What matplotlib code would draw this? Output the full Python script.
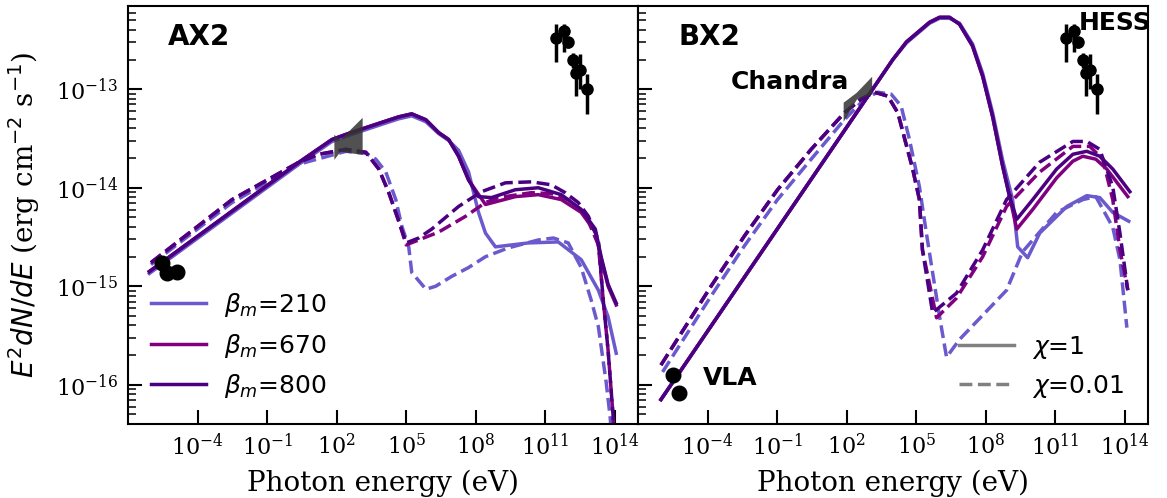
import numpy as np
import matplotlib.pyplot as plt
from matplotlib.lines import Line2D
from matplotlib.ticker import NullLocator, LogLocator

plt.rcParams['font.family'] = 'serif'
plt.rcParams['font.serif'] = ['DejaVu Serif']
plt.rcParams['mathtext.fontset'] = 'dejavusans'

# Valori: log10(E / eV) e log10(E^2 dN/dE / erg cm^-2 s^-1)

# ---- AX2, chi = 1 (linee continue)
ax2_sol_210_x = [-6.08, 0.38, 1.80, 2.50, 3.26, 4.03, 4.68, 5.24, 5.85, 6.40, 6.83, 7.26, 7.69, 8.12, 8.42, 8.85, 10.27, 11.56, 12.55, 13.29, 13.71, 14.06]
ax2_sol_210_y = [-14.87, -13.76, -13.53, -13.47, -13.41, -13.35, -13.30, -13.27, -13.33, -13.45, -13.52, -13.62, -13.84, -14.25, -14.46, -14.60, -14.56, -14.55, -14.73, -15.04, -15.31, -15.68]
ax2_sol_670_x = [-6.08, 0.38, 1.80, 2.50, 3.26, 4.03, 4.68, 5.24, 5.85, 6.40, 6.83, 7.26, 7.69, 8.42, 9.71, 10.70, 11.69, 12.55, 13.16, 13.41, 13.71, 14.06]
ax2_sol_670_y = [-14.85, -13.74, -13.51, -13.45, -13.39, -13.33, -13.28, -13.25, -13.31, -13.44, -13.51, -13.68, -13.92, -14.17, -14.09, -14.07, -14.12, -14.25, -14.45, -14.72, -15.00, -15.19]
ax2_sol_800_x = [-6.08, 0.38, 1.80, 2.50, 3.26, 4.03, 4.68, 5.24, 5.85, 6.40, 6.83, 7.26, 7.69, 8.12, 8.68, 9.71, 10.70, 11.69, 12.55, 13.16, 13.41, 13.71, 14.06]
ax2_sol_800_y = [-14.85, -13.74, -13.51, -13.45, -13.39, -13.33, -13.28, -13.25, -13.31, -13.44, -13.51, -13.68, -13.92, -14.09, -14.10, -14.02, -14.00, -14.07, -14.22, -14.42, -14.70, -14.98, -15.17]

# ---- AX2, chi = 0.01 (tratteggiate)
ax2_dash_210_x = [-6.01, -2.51, 0.38, 2.40, 3.26, 3.69, 4.12, 4.55, 4.81, 5.11, 5.24, 5.85, 6.27, 6.96, 7.69, 8.42, 9.41, 10.70, 11.35, 11.99, 12.55, 12.98, 13.29, 13.63, 13.80, 13.93]
ax2_dash_210_y = [-14.78, -14.15, -13.76, -13.63, -13.65, -13.71, -13.84, -14.12, -14.39, -14.60, -14.86, -15.03, -15.00, -14.90, -14.81, -14.70, -14.61, -14.53, -14.51, -14.56, -14.81, -15.14, -15.41, -15.98, -16.33, -16.76]
ax2_dash_670_x = [-6.01, -2.51, 0.38, 1.24, 2.40, 2.96, 3.26, 3.82, 4.25, 4.68, 5.00, 6.40, 7.56, 8.42, 8.98, 10.40, 11.26, 11.99, 12.73, 13.29, 13.50, 13.71, 13.93, 14.02]
ax2_dash_670_y = [-14.76, -14.12, -13.74, -13.66, -13.61, -13.63, -13.64, -13.81, -14.05, -14.34, -14.58, -14.45, -14.29, -14.15, -14.10, -14.05, -14.06, -14.12, -14.27, -14.58, -15.14, -15.65, -16.33, -16.76]
ax2_dash_800_x = [-6.01, -2.51, 0.38, 1.24, 2.40, 2.96, 3.26, 3.82, 4.25, 4.68, 5.00, 5.54, 6.10, 7.26, 8.25, 9.28, 10.40, 11.26, 11.86, 12.42, 12.86, 13.29, 13.50, 13.71, 13.93, 14.02]
ax2_dash_800_y = [-14.76, -14.12, -13.74, -13.66, -13.61, -13.63, -13.64, -13.81, -14.05, -14.34, -14.56, -14.51, -14.42, -14.19, -14.04, -13.95, -13.94, -13.97, -14.05, -14.15, -14.29, -14.53, -15.14, -15.65, -16.33, -16.76]

# ---- BX2, chi = 1
bx2_sol_210_x = [-6.01, 3.99, 4.58, 5.58, 6.01, 6.44, 6.87, 7.43, 7.87, 8.30, 8.73, 9.16, 9.38, 9.81, 10.33, 11.50, 12.36, 12.92, 13.48, 14.17]
bx2_sol_210_y = [-16.15, -12.70, -12.53, -12.33, -12.28, -12.28, -12.33, -12.54, -12.84, -13.24, -13.72, -14.12, -14.60, -14.71, -14.46, -14.19, -14.08, -14.10, -14.25, -14.34]
bx2_sol_670_x = [-6.01, 3.99, 4.58, 5.58, 6.01, 6.44, 6.87, 7.43, 7.87, 8.30, 8.73, 9.03, 9.34, 10.03, 11.06, 11.76, 12.19, 12.75, 13.22, 14.13]
bx2_sol_670_y = [-16.15, -12.70, -12.52, -12.32, -12.27, -12.27, -12.34, -12.56, -12.87, -13.28, -13.78, -14.09, -14.42, -14.22, -13.90, -13.73, -13.68, -13.71, -13.81, -14.09]
bx2_sol_800_x = [-6.01, 3.99, 4.58, 5.58, 6.01, 6.44, 6.87, 7.43, 7.87, 8.30, 8.73, 9.03, 9.34, 10.03, 11.06, 11.76, 12.36, 12.92, 13.48, 14.22]
bx2_sol_800_y = [-16.15, -12.70, -12.52, -12.32, -12.27, -12.27, -12.34, -12.56, -12.87, -13.28, -13.78, -14.09, -14.32, -14.12, -13.81, -13.66, -13.63, -13.68, -13.81, -14.04]

# ---- BX2, chi = 0.01
bx2_dash_210_x = [-5.94, -3.85, -2.41, -0.98, 0.47, 1.90, 2.77, 3.34, 3.92, 4.35, 4.71, 5.14, 5.44, 6.01, 6.31, 6.87, 8.90, 9.59, 11.06, 12.19, 12.75, 13.48, 13.79, 14.09]
bx2_dash_210_y = [-15.87, -15.10, -14.59, -14.12, -13.71, -13.31, -13.10, -13.03, -13.05, -13.17, -13.51, -13.99, -14.46, -15.31, -15.72, -15.54, -15.04, -14.65, -14.25, -14.12, -14.09, -14.40, -14.73, -15.42]
bx2_dash_670_x = [-6.01, -3.85, -2.41, -0.98, 0.47, 1.90, 2.63, 3.20, 3.78, 4.21, 4.50, 4.84, 5.14, 5.27, 5.88, 6.74, 7.87, 8.90, 10.33, 11.76, 12.49, 13.05, 13.48, 13.79, 14.13]
bx2_dash_670_y = [-15.80, -15.00, -14.49, -14.02, -13.61, -13.24, -13.10, -13.03, -13.07, -13.24, -13.50, -13.80, -14.12, -14.63, -15.32, -15.12, -14.70, -14.19, -13.84, -13.58, -13.58, -13.71, -14.12, -14.63, -15.04]
bx2_dash_800_x = [-6.01, -3.85, -2.41, -0.98, 0.47, 1.90, 2.63, 3.20, 3.78, 4.21, 4.50, 4.84, 5.14, 5.27, 5.71, 6.74, 7.87, 8.90, 10.33, 11.76, 12.36, 12.92, 13.48, 13.79, 14.13]
bx2_dash_800_y = [-15.80, -15.00, -14.49, -14.02, -13.61, -13.24, -13.10, -13.03, -13.07, -13.24, -13.50, -13.80, -14.12, -14.63, -15.27, -15.07, -14.63, -14.12, -13.74, -13.53, -13.53, -13.61, -13.99, -14.46, -15.04]

# ---- Dati osservativi
radio_ax2_E = [3.0e-6, 5.0e-6, 1.35e-5]
radio_ax2_F = [1.74e-15, 1.35e-15, 1.41e-15]
radio_bx2_E = [3.1e-6, 5.6e-6]
radio_bx2_F = [1.26e-16, 8.2e-17]

hess_E = [2.8e11, 6.3e11, 1.0e12, 1.5e12, 2.1e12, 3.2e12, 6.3e12]
hess_F = [3.31e-13, 3.89e-13, 3.02e-13, 2.0e-13, 1.45e-13, 1.58e-13, 1.0e-13]
hess_err_lo = [1.40e-13, 1.50e-13, 0.40e-13, 0.35e-13, 0.60e-13, 0.58e-13, 0.44e-13]
hess_err_hi = [1.26e-13, 0.68e-13, 0.40e-13, 0.35e-13, 0.74e-13, 0.69e-13, 0.42e-13]

# bowtie Chandra (log10)
chandra_ax2_x = [1.88, 2.14, 3.10]
chandra_ax2_hi = [-13.458, -13.509, -13.285]
chandra_ax2_lo = [-13.712, -13.631, -13.661]
chandra_bx2_x = [1.85, 2.42, 3.08]
chandra_bx2_hi = [-13.132, -13.030, -12.868]
chandra_bx2_lo = [-13.326, -13.100, -13.050]

beta_labels = [r'$\beta_m$=210', r'$\beta_m$=670', r'$\beta_m$=800']
chi_labels = [r'$\chi$=1', r'$\chi$=0.01']
colors = ['slateblue', 'purple', 'indigo']
lw = 2.5
leg_font = {'family': 'DejaVu Sans', 'size': 18}


def draw_curve(ax, lx, ly, color, ls='-'):
    return ax.plot(10.0 ** np.array(lx), 10.0 ** np.array(ly), color=color, ls=ls, lw=lw)[0]


def style_axis(ax):
    ax.set_xscale('log')
    ax.set_yscale('log')
    ax.set_xlim(1e-7, 1e15)
    ax.set_ylim(4e-17, 7e-13)
    ax.set_xticks([1e-4, 1e-1, 1e2, 1e5, 1e8, 1e11, 1e14])
    ax.set_yticks([1e-16, 1e-15, 1e-14, 1e-13])
    ax.yaxis.set_minor_locator(LogLocator(base=10, subs=np.arange(2, 10), numticks=20))
    ax.xaxis.set_minor_locator(NullLocator())
    ax.tick_params(which='both', direction='in', top=False, right=False, labelsize=16, pad=7)
    ax.tick_params(which='major', length=10, width=1.5)
    ax.tick_params(which='minor', length=5.5, width=1.1)
    for s in ax.spines.values():
        s.set_linewidth(1.5)
    ax.set_xlabel('Photon energy (eV)', fontsize=20, labelpad=7)


fig, (ax1, ax2) = plt.subplots(1, 2, figsize=(11.67, 4.98), dpi=100, sharey=True)
fig.subplots_adjust(left=0.1097, right=0.9837, bottom=0.1486, top=0.988, wspace=0)

# Pannello AX2
sol_ax2 = [(ax2_sol_210_x, ax2_sol_210_y), (ax2_sol_670_x, ax2_sol_670_y), (ax2_sol_800_x, ax2_sol_800_y)]
dash_ax2 = [(ax2_dash_210_x, ax2_dash_210_y), (ax2_dash_670_x, ax2_dash_670_y), (ax2_dash_800_x, ax2_dash_800_y)]
handles = []
for (sx, sy), (dx, dy), c in zip(sol_ax2, dash_ax2, colors):
    handles.append(draw_curve(ax1, sx, sy, c))
    draw_curve(ax1, dx, dy, c, '--')

ax1.fill_between(10.0 ** np.array(chandra_ax2_x), 10.0 ** np.array(chandra_ax2_lo), 10.0 ** np.array(chandra_ax2_hi),
                 color='#333333', alpha=0.85, lw=0, zorder=3)
ax1.plot(radio_ax2_E, radio_ax2_F, 'o', color='k', ms=10.5, zorder=4)
ax1.errorbar(hess_E, hess_F, yerr=[hess_err_lo, hess_err_hi], fmt='o', color='k', ms=8, elinewidth=2.5, capsize=0, zorder=4)
ax1.text(0.078, 0.96, 'AX2', transform=ax1.transAxes, fontsize=20, fontweight='bold', family='DejaVu Sans', va='top')

ax1.legend(handles, beta_labels, loc='lower left', bbox_to_anchor=(0.046, 0.057), frameon=False, prop=leg_font,
           handlelength=2.2, handletextpad=0.7, borderpad=0, borderaxespad=0)

# Pannello BX2
sol_bx2 = [(bx2_sol_210_x, bx2_sol_210_y), (bx2_sol_670_x, bx2_sol_670_y), (bx2_sol_800_x, bx2_sol_800_y)]
dash_bx2 = [(bx2_dash_210_x, bx2_dash_210_y), (bx2_dash_670_x, bx2_dash_670_y), (bx2_dash_800_x, bx2_dash_800_y)]
for (sx, sy), (dx, dy), c in zip(sol_bx2, dash_bx2, colors):
    draw_curve(ax2, sx, sy, c)
    draw_curve(ax2, dx, dy, c, '--')

ax2.fill_between(10.0 ** np.array(chandra_bx2_x), 10.0 ** np.array(chandra_bx2_lo), 10.0 ** np.array(chandra_bx2_hi),
                 color='#333333', alpha=0.85, lw=0, zorder=3)
ax2.plot(radio_bx2_E, radio_bx2_F, 'o', color='k', ms=10.5, zorder=4)
ax2.errorbar(hess_E, hess_F, yerr=[hess_err_lo, hess_err_hi], fmt='o', color='k', ms=8, elinewidth=2.5, capsize=0, zorder=4)
ax2.text(0.079, 0.96, 'BX2', transform=ax2.transAxes, fontsize=20, fontweight='bold', family='DejaVu Sans', va='top')
ax2.text(1.0e12, 4.0e-13, 'HESS', fontsize=18, fontweight='bold', family='DejaVu Sans', va='baseline')
ax2.text(1.0e-3, 1.0e-13, 'Chandra', fontsize=18, fontweight='bold', family='DejaVu Sans', va='baseline')
ax2.text(6.0e-5, 1.0e-16, 'VLA', fontsize=18, fontweight='bold', family='DejaVu Sans', va='baseline')

chi_handles = [Line2D([], [], color='grey', lw=lw, ls='-'), Line2D([], [], color='grey', lw=lw, ls='--')]
ax2.legend(chi_handles, chi_labels, loc='lower left', bbox_to_anchor=(0.63, 0.057), frameon=False, prop=leg_font,
           handlelength=2.2, handletextpad=0.7, borderpad=0, borderaxespad=0)

for ax in (ax1, ax2):
    style_axis(ax)
ax2.tick_params(labelleft=False)
ax1.set_ylabel(r'$E^2dN/dE$ (erg cm$^{-2}$ s$^{-1}$)', fontsize=20, labelpad=10)

fig.savefig('out.png', dpi=100)
